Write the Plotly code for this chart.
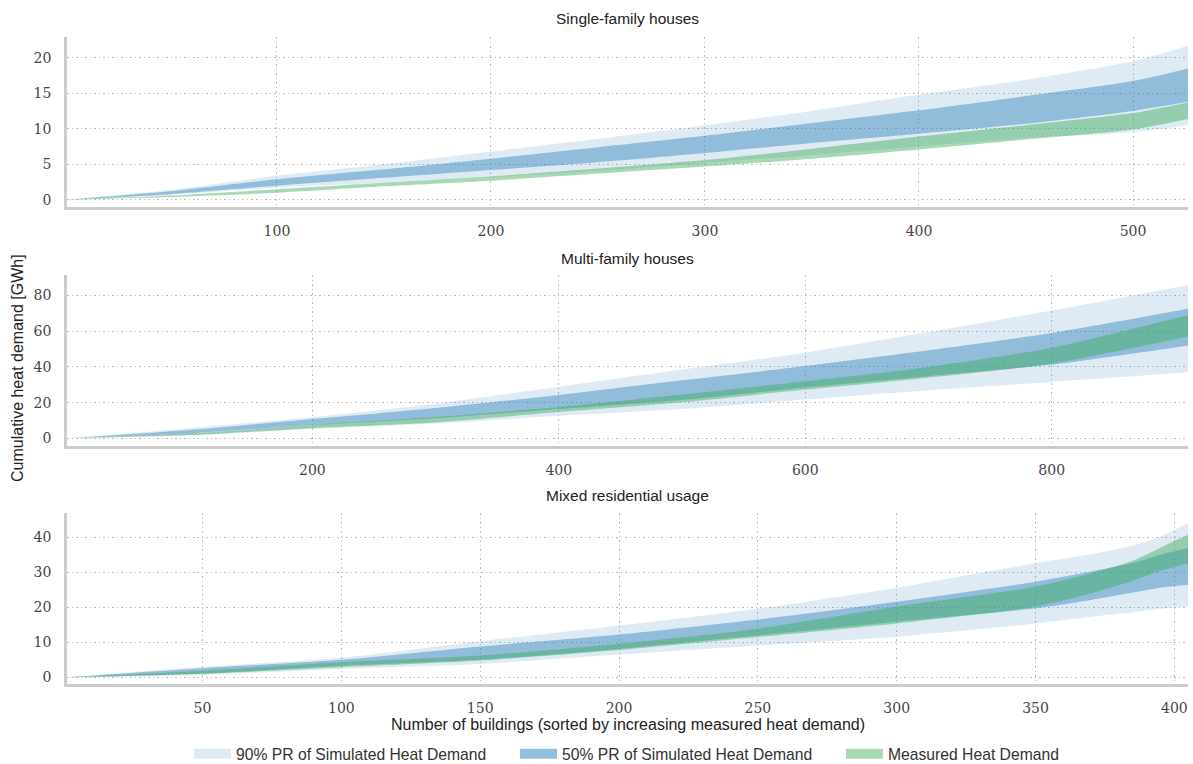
import plotly.graph_objects as go

# ---------------- data (cumulative heat demand, GWh) ----------------
# Single-family houses
sf_x = [1, 50, 100, 150, 200, 250, 300, 350, 400, 450, 500, 526]
sf_p95 = [0, 1.4, 3.4, 5.0, 6.8, 8.6, 10.5, 12.5, 14.8, 16.9, 19.5, 21.7]
sf_p75 = [0, 1.2, 2.9, 4.3, 5.8, 7.4, 9.0, 10.8, 12.6, 14.6, 16.7, 18.5]
sf_p25 = [0, 0.8, 2.0, 3.1, 4.2, 5.3, 6.6, 8.0, 9.3, 10.7, 12.5, 13.8]
sf_p05 = [0, 0.7, 1.7, 2.4, 3.2, 4.1, 5.2, 6.3, 7.5, 8.7, 9.5, 10.5]
sf_meas_hi = [0, 0.6, 1.5, 2.4, 3.3, 4.4, 5.6, 7.2, 8.9, 10.5, 12.2, 13.7]
sf_meas_lo = [0, 0.4, 1.0, 1.9, 2.7, 3.7, 4.7, 5.8, 7.1, 8.5, 9.9, 11.4]

# Multi-family houses
mf_x = [1, 100, 200, 300, 400, 500, 600, 700, 800, 911]
mf_p95 = [0, 5.6, 11.9, 19.4, 28.9, 38.5, 48.0, 59.5, 71.6, 86.0]
mf_p75 = [0, 4.7, 10.8, 17.0, 24.3, 32.5, 40.5, 49.3, 59.0, 72.6]
mf_p25 = [0, 2.8, 7.5, 11.3, 16.4, 21.5, 28.5, 34.8, 41.3, 52.1]
mf_p05 = [0, 1.7, 5.3, 8.3, 12.6, 16.4, 21.7, 27.0, 31.6, 37.0]
mf_meas_hi = [0, 2.8, 7.5, 11.9, 17.5, 24.5, 32.0, 40.0, 50.8, 69.2]
mf_meas_lo = [0, 1.8, 5.7, 8.9, 14.7, 20.2, 27.3, 34.0, 41.9, 57.1]

# Mixed residential usage
mx_x = [1, 50, 100, 150, 200, 250, 300, 350, 370, 385, 395, 405]
mx_p95 = [0, 3.0, 5.6, 10.3, 14.8, 19.6, 25.6, 32.6, 35.1, 37.6, 40.2, 44.0]
mx_p75 = [0, 2.6, 5.0, 8.8, 12.2, 16.5, 21.6, 27.3, 30.2, 32.6, 35.0, 36.9]
mx_p25 = [0, 1.1, 3.3, 5.0, 8.1, 12.0, 15.9, 19.7, 22.1, 24.2, 25.6, 26.4]
mx_p05 = [0, 0.7, 2.4, 3.8, 6.5, 9.1, 11.6, 15.4, 17.3, 18.6, 19.5, 20.2]
mx_meas_hi = [0, 1.9, 4.3, 6.2, 9.6, 13.9, 20.2, 25.9, 29.7, 33.3, 37.0, 40.7]
mx_meas_lo = [0, 1.0, 2.9, 4.8, 7.8, 11.5, 15.4, 20.2, 24.0, 27.6, 30.4, 32.6]

panel_titles = ["Single-family houses", "Multi-family houses", "Mixed residential usage"]
legend_names = ["90% PR of Simulated Heat Demand", "50% PR of Simulated Heat Demand",
                "Measured Heat Demand"]
x_ticks = [[100, 200, 300, 400, 500], [200, 400, 600, 800],
           [50, 100, 150, 200, 250, 300, 350, 400]]
y_ticks = [[0, 5, 10, 15, 20], [0, 20, 40, 60, 80], [0, 10, 20, 30, 40]]

# ---------------- styling ----------------
C90 = "rgba(31,119,180,0.15)"
C50 = "rgba(31,119,180,0.40)"
CMEAS = "rgba(60,170,90,0.45)"
LEG_COLORS = ["rgb(221,234,243)", "rgb(146,191,222)", "rgb(166,218,178)"]
SANS = "Liberation Sans"
SERIF = "DejaVu Serif"
AXIS_GREY = "#cccccc"
GRID_GREY = "#bdbdbd"
SMOOTH = 0.7

panels = [
    (sf_x, sf_p95, sf_p75, sf_p25, sf_p05, sf_meas_hi, sf_meas_lo),
    (mf_x, mf_p95, mf_p75, mf_p25, mf_p05, mf_meas_hi, mf_meas_lo),
    (mx_x, mx_p95, mx_p75, mx_p25, mx_p05, mx_meas_hi, mx_meas_lo),
]

W, H = 1193, 764
ML, MR, MT, MB = 67, 5, 37, 80
PH = H - MT - MB
PW = W - ML - MR


def py(pix):
    """Pixel row -> paper y coordinate."""
    return (H - MB - pix) / PH


def px(pix):
    """Pixel column -> paper x coordinate."""
    return (pix - ML) / PW


domains = [(py(207), py(37)), (py(446), py(275)), (py(684), py(513))]
x_ranges = [[1.9, 525.7], [0.9, 910.6], [1.2, 404.9]]
y_ranges = [[-1.0, 22.9], [-4.3, 91.5], [-1.9, 46.9]]
title_rows = [19, 258, 496]

fig = go.Figure()


def band(xs, lo, hi, color, xa, ya):
    line = dict(width=0, shape="spline", smoothing=SMOOTH)
    fig.add_trace(go.Scatter(x=xs, y=lo, mode="lines", line=line,
                             showlegend=False, hoverinfo="skip", xaxis=xa, yaxis=ya))
    fig.add_trace(go.Scatter(x=xs, y=hi, mode="lines", line=line,
                             fill="tonexty", fillcolor=color, showlegend=False,
                             hoverinfo="skip", xaxis=xa, yaxis=ya))


for i, (xs, p95, p75, p25, p05, mhi, mlo) in enumerate(panels):
    xa = "x" if i == 0 else f"x{i + 1}"
    ya = "y" if i == 0 else f"y{i + 1}"
    band(xs, p05, p95, C90, xa, ya)
    band(xs, p25, p75, C50, xa, ya)
    band(xs, mlo, mhi, CMEAS, xa, ya)

# legend entries: thick line swatches give a filled rectangle
for name, col in zip(legend_names, LEG_COLORS):
    fig.add_trace(go.Scatter(x=[None], y=[None], mode="lines",
                             line=dict(color=col, width=15), name=name,
                             xaxis="x", yaxis="y"))

layout = dict(
    width=W, height=H,
    margin=dict(l=ML, r=MR, t=MT, b=MB),
    paper_bgcolor="white", plot_bgcolor="white",
    showlegend=True,
    legend=dict(orientation="h", traceorder="normal",
                xref="container", yref="container",
                x=189 / W, xanchor="left", y=(H - 754) / H, yanchor="middle",
                entrywidth=274, entrywidthmode="pixels",
                font=dict(family=SANS, size=15.7, color="#333"),
                itemwidth=37, bgcolor="rgba(0,0,0,0)"),
    annotations=[],
)

for i in range(3):
    xk = "xaxis" if i == 0 else f"xaxis{i + 1}"
    yk = "yaxis" if i == 0 else f"yaxis{i + 1}"
    ya = "y" if i == 0 else f"y{i + 1}"
    xa = "x" if i == 0 else f"x{i + 1}"
    layout[xk] = dict(
        domain=[0, 1], anchor=ya, range=x_ranges[i],
        tickvals=x_ticks[i], ticks="outside", ticklen=9, tickcolor="rgba(0,0,0,0)",
        tickfont=dict(family=SERIF, size=14, color="#444"),
        showgrid=True, gridcolor=GRID_GREY, gridwidth=1.2, griddash="1.5px,3px",
        showline=True, linecolor=AXIS_GREY, linewidth=2.5, zeroline=False,
    )
    layout[yk] = dict(
        domain=list(domains[i]), anchor=xa, range=y_ranges[i],
        tickvals=y_ticks[i], ticks="outside", ticklen=10, tickcolor="rgba(0,0,0,0)",
        tickfont=dict(family=SERIF, size=14, color="#444"),
        showgrid=True, gridcolor=GRID_GREY, gridwidth=1.2, griddash="1.5px,3px",
        showline=True, linecolor=AXIS_GREY, linewidth=2.5, zeroline=False,
    )
    layout["annotations"].append(dict(
        text=panel_titles[i], xref="paper", yref="paper", x=0.5, y=py(title_rows[i]),
        xanchor="center", yanchor="middle", showarrow=False,
        font=dict(family=SANS, size=15.5, color="#222")))

layout["annotations"].append(dict(
    text="Number of buildings (sorted by increasing measured heat demand)",
    xref="paper", yref="paper", x=0.5, y=py(724), xanchor="center", yanchor="middle",
    showarrow=False, font=dict(family=SANS, size=16, color="#222")))
layout["annotations"].append(dict(
    text="Cumulative heat demand [GWh]", textangle=-90,
    xref="paper", yref="paper", x=px(18), y=py(368), xanchor="center", yanchor="middle",
    showarrow=False, font=dict(family=SANS, size=16, color="#222")))

fig.update_layout(**layout)
fig.write_html("out.html")
